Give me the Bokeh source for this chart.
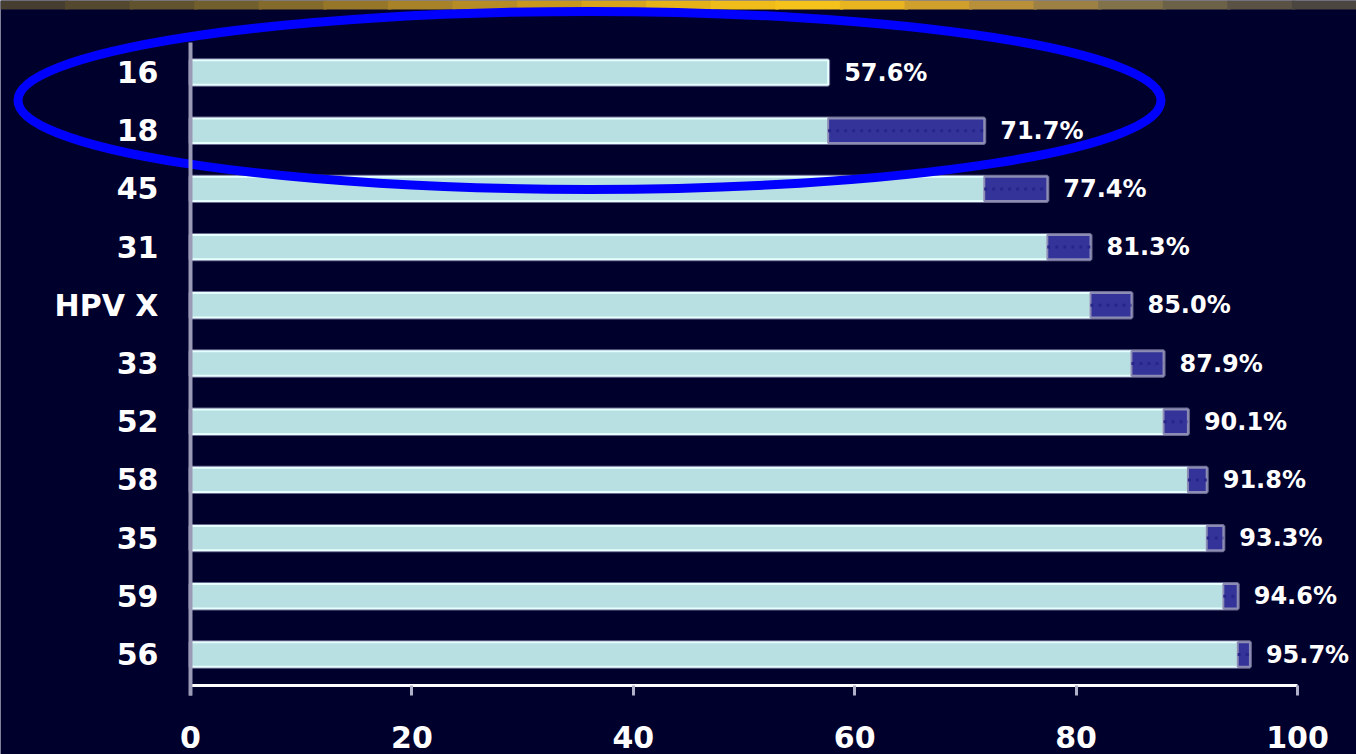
from bokeh.plotting import figure
from bokeh.models import Range1d, LinearAxis, FixedTicker, ColumnDataSource
from bokeh.core.properties import value
from bokeh.embed import file_html
from bokeh.resources import INLINE

# ---------------- data ----------------
categories = ["16", "18", "45", "31", "HPV X", "33", "52", "58", "35", "59", "56"]
cumulative = [57.6, 71.7, 77.4, 81.3, 85.0, 87.9, 90.1, 91.8, 93.3, 94.6, 95.7]
x_ticks = [0, 20, 40, 60, 80, 100]
highlight = ["16", "18"]

# ---------------- layout / style ----------------
W, H = 1356, 754
X0_PX, X100_PX = 190, 1297
PX_PER_UNIT = (X100_PX - X0_PX) / 100.0
ROW0_PX, ROW_STEP = 72.0, 58.2
BG = "#00002c"
CYAN = "#b8e0e2"
BLUE = "#333399"
FONT = "DejaVu Sans"

x_start = -X0_PX / PX_PER_UNIT
x_end = (W - X0_PX) / PX_PER_UNIT
y_top = -ROW0_PX / ROW_STEP
y_bottom = (H - ROW0_PX) / ROW_STEP
def py(px):
    return (px - ROW0_PX) / ROW_STEP
def px_x(px):
    return (px - X0_PX) / PX_PER_UNIT

p = figure(width=W, height=H, x_range=Range1d(x_start, x_end),
           y_range=Range1d(y_bottom, y_top), x_axis_type=None, y_axis_type=None,
           toolbar_location=None, output_backend="svg", min_border=0,
           background_fill_color=BG, border_fill_color=BG, outline_line_color=None)

# decorative gold band at the top
band_stops = ["#463e30", "#54492f", "#62532f", "#725f2e", "#846b2c", "#96772a",
              "#a88228", "#b88c24", "#c8981e", "#d8a41c", "#e6b21a", "#f0bc1a",
              "#f4c21a", "#e8b420", "#d0a02c", "#b8903a", "#9c8044", "#82724a",
              "#6c6248", "#5a5244", "#4c4640"]
n = len(band_stops)
bl = [x_start + (x_end - x_start) * i / n for i in range(n)]
br = [x_start + (x_end - x_start) * (i + 1) / n + 0.3 for i in range(n)]
p.quad(left=bl, right=br, top=[y_top] * n, bottom=[py(9)] * n,
       fill_color=band_stops, line_color=None)

idx = list(range(len(categories)))
cyan_right = [cumulative[0]] + cumulative[:-1]
src_all = ColumnDataSource(dict(y=idx, left=[0] * len(idx), right=cumulative))
src_c = ColumnDataSource(dict(y=idx, left=[0] * len(idx), right=cyan_right))
src_b = ColumnDataSource(dict(y=idx[1:], left=cumulative[:-1], right=cumulative[1:]))

BAR_H = 0.42
p.hbar(y="y", left="left", right="right", height=BAR_H, source=src_all,
       fill_color=None, line_color="#6a6a90", line_width=4)
p.hbar(y="y", left="left", right="right", height=BAR_H, source=src_c,
       fill_color=CYAN, line_color="#e6ffff", line_width=2)
p.hbar(y="y", left="left", right="right", height=BAR_H, source=src_b,
       fill_color=BLUE, line_color="#8c8cb4", line_width=2)
p.segment(x0="left", x1="right", y0="y", y1="y", source=src_b,
          line_color="#26268a", line_width=3, line_dash="3 5")

labels = [f"{v:.1f}%" for v in cumulative]
p.text(x=cumulative, y=idx, text=labels, x_offset=16, text_align="left",
       text_baseline="middle", text_color="white", text_font=value(FONT),
       text_font_style="bold", text_font_size="24px")

# highlight ellipse around the first two types
hl_idx = [categories.index(c) for c in highlight]
p.ellipse(x=[px_x(589)], y=[sum(hl_idx) / len(hl_idx) - 0.02], width=[1143 / PX_PER_UNIT],
          height=[178 / ROW_STEP], fill_color=None, line_color="#0000ff", line_width=9)

# axes
xaxis = LinearAxis(fixed_location=py(685), ticker=FixedTicker(ticks=x_ticks), bounds=(0, 100))
xaxis.axis_line_color = "white"
xaxis.axis_line_width = 3
xaxis.major_tick_line_color = "#b0b0c8"
xaxis.major_tick_line_width = 3
xaxis.major_tick_in = 0
xaxis.major_tick_out = 10
xaxis.minor_tick_line_color = None
xaxis.major_label_text_color = "white"
xaxis.major_label_text_font = FONT
xaxis.major_label_text_font_style = "bold"
xaxis.major_label_text_font_size = "30px"
xaxis.major_label_standoff = 30
p.add_layout(xaxis, "below")

yaxis = LinearAxis(fixed_location=0, ticker=FixedTicker(ticks=idx),
                   bounds=(py(42), py(695)))
yaxis.major_label_overrides = {i: c for i, c in zip(idx, categories)}
yaxis.axis_line_color = "#9a9ab6"
yaxis.axis_line_width = 4
yaxis.major_tick_line_color = None
yaxis.minor_tick_line_color = None
yaxis.major_label_text_color = "white"
yaxis.major_label_text_font = FONT
yaxis.major_label_text_font_style = "bold"
yaxis.major_label_text_font_size = "30px"
yaxis.major_label_standoff = 26
p.add_layout(yaxis, "left")

open("out.html", "w").write(file_html(p, INLINE))
